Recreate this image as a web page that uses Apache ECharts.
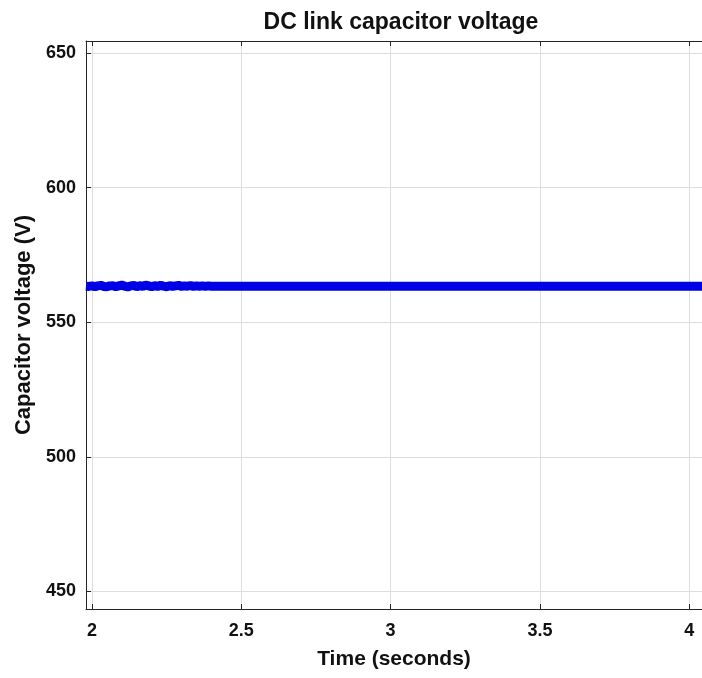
<!DOCTYPE html>
<html>
<head>
<meta charset="utf-8">
<script src="https://cdn.jsdelivr.net/npm/echarts@6/dist/echarts.min.js"></script>
<style>
  html, body { margin: 0; padding: 0; background: #fff; overflow: hidden; }
  #chart { width: 702px; height: 678px; }
</style>
</head>
<body>
<div id="chart"></div>
<script>
// DC link capacitor voltage, sampled from the simulation trace
const timeSec = [1.98, 1.99, 2.00, 2.01, 2.02, 2.03, 2.04, 2.05, 2.06, 2.07, 2.08, 2.09, 2.10,
  2.11, 2.12, 2.13, 2.14, 2.15, 2.16, 2.17, 2.18, 2.19, 2.20, 2.21, 2.22, 2.23, 2.24, 2.25,
  2.26, 2.27, 2.28, 2.29, 2.30, 2.31, 2.32, 2.33, 2.34, 2.35, 2.36, 2.37, 2.38, 2.39, 2.40,
  2.50, 2.75, 3.00, 3.25, 3.50, 3.75, 4.00, 4.05];
const voltage = [563.4, 563.3, 563.5, 563.2, 563.5, 563.7, 563.3, 563.2, 563.5, 563.6, 563.2, 563.5, 563.8,
  563.4, 563.1, 563.5, 563.7, 563.2, 563.6, 563.3, 563.8, 563.5, 563.2, 563.6, 563.3, 563.7, 563.4, 563.2,
  563.6, 563.3, 563.5, 563.7, 563.3, 563.5, 563.4, 563.6, 563.3, 563.5, 563.4, 563.5, 563.3, 563.5, 563.4,
  563.4, 563.4, 563.4, 563.4, 563.4, 563.4, 563.4, 563.4];

const xTicks = [2, 2.5, 3, 3.5, 4];
const yTicks = [450, 500, 550, 600, 650];

const font = "'Liberation Sans', Arial, Helvetica, sans-serif";
const ink = '#111111';
const frame = '#262626';
const gridColor = '#dedede';

const chart = echarts.init(document.getElementById('chart'), null, { renderer: 'canvas' });

const xCommon = {
  type: 'value',
  min: 1.9802,
  max: 4.0428,
  axisLine: { show: true, onZero: false, lineStyle: { color: frame, width: 1 } },
  axisTick: { show: true, inside: true, length: 5, customValues: xTicks, lineStyle: { color: frame } },
  splitLine: { show: false }
};
const yCommon = {
  type: 'value',
  min: 443.5,
  max: 654.45,
  axisLine: { show: true, onZero: false, lineStyle: { color: frame, width: 1 } },
  axisTick: { show: true, inside: true, length: 5, customValues: yTicks, lineStyle: { color: frame } },
  splitLine: { show: false }
};

chart.setOption({
  animation: false,
  backgroundColor: '#ffffff',
  title: {
    text: 'DC link capacitor voltage',
    left: 396,
    top: 6,
    textAlign: 'center',
    textStyle: { fontFamily: font, fontSize: 23, fontWeight: 'bold', color: ink }
  },
  // plot box runs slightly past the right edge of the canvas
  grid: { left: 86, right: -10, top: 41, bottom: 69, containLabel: false },
  xAxis: [
    Object.assign({}, xCommon, {
      position: 'bottom',
      name: 'Time (seconds)',
      nameLocation: 'middle',
      nameGap: 40,
      nameTextStyle: { fontFamily: font, fontSize: 21, fontWeight: 'bold', color: ink },
      axisLabel: {
        show: true, customValues: xTicks, margin: 13,
        fontFamily: font, fontSize: 18, fontWeight: 'bold', color: ink,
        formatter: v => String(v)
      },
      splitLine: { show: true, lineStyle: { color: gridColor, width: 1 } }
    }),
    Object.assign({}, xCommon, { position: 'top', axisLabel: { show: false } })
  ],
  yAxis: [
    Object.assign({}, yCommon, {
      position: 'left',
      name: 'Capacitor voltage (V)',
      nameLocation: 'middle',
      nameGap: 49,
      nameTextStyle: { fontFamily: font, fontSize: 22, fontWeight: 'bold', color: ink },
      axisLabel: {
        show: true, customValues: yTicks, margin: 10,
        fontFamily: font, fontSize: 18, fontWeight: 'bold', color: ink
      },
      splitLine: { show: true, lineStyle: { color: gridColor, width: 1 } }
    })
  ],
  series: [{
    type: 'line',
    xAxisIndex: 0,
    yAxisIndex: 0,
    data: timeSec.map((t, i) => [t, voltage[i]]),
    showSymbol: false,
    clip: true,
    lineStyle: { color: '#0000e6', width: 9 },
    itemStyle: { color: '#0000e6' }
  }]
});
</script>
</body>
</html>
